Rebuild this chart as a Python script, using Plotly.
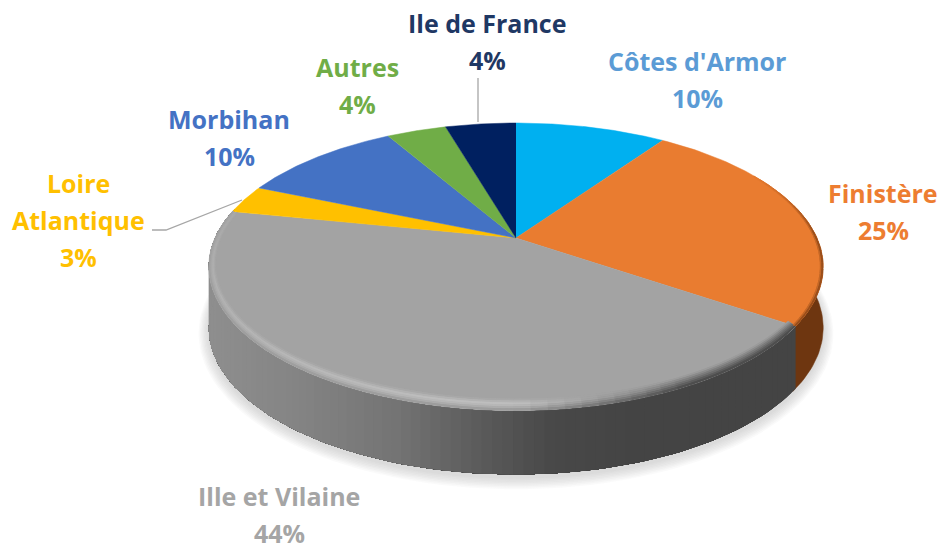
import numpy as np
import plotly.graph_objects as go

# ---- data
categories = ["Côtes d'Armor", "Finistère", "Ille et Vilaine", "Loire Atlantique", "Morbihan", "Autres", "Ile de France"]
values = [9.6, 25.0, 43.6, 3.2, 10.3, 3.8, 4.5]
percent_labels = ["10%", "25%", "44%", "3%", "10%", "4%", "4%"]
face_colors = ["#00B0F0", "#E97C30", "#A3A3A3", "#FFC000", "#4472C4", "#70AD47", "#002060"]
text_colors = ["#5B9BD5", "#ED7D31", "#A5A5A5", "#FFC000", "#4472C4", "#70AD47", "#1F3864"]
label_lines = [["Côtes d'Armor"], ["Finistère"], ["Ille et Vilaine"], ["Loire", "Atlantique"], ["Morbihan"], ["Autres"], ["Ile de France"]]

# ---- projection of the tilted disc onto the page
CX, CY, RX, RY, PERSP = 516.0, 238.0, 301.0, 138.0, 0.2
WALL = 64.0
FONT = "Open Sans"

def proj(theta, rx=1.0, ry=1.0, drop=0.0):
    X, Y = np.sin(theta) * rx, -np.cos(theta) * ry
    f = 1.0 / (1.0 - PERSP * Y)
    wall = drop * (0.94 + 0.06 * Y)
    return CX + RX * X * f, CY + RY * Y * f + wall

def hexrgb(c):
    return np.array([int(c[i:i + 2], 16) for i in (1, 3, 5)], float)

def mix(a, b, w):
    v = np.asarray(a) * (1 - w) + np.asarray(b) * w
    return "rgb(%d,%d,%d)" % tuple(np.round(v))

def gray(g):
    return mix([g] * 3, [g] * 3, 0)

fig = go.Figure()

def poly(xs, ys, color, opacity=None, lw=0.5):
    fig.add_trace(go.Scatter(x=list(xs), y=list(ys), mode="lines", fill="toself", fillcolor=color,
                             line=dict(color=color if opacity is None else "rgba(0,0,0,0)", width=lw if opacity is None else 0),
                             opacity=opacity, hoverinfo="skip", showlegend=False))

fractions = np.array(values) / sum(values)
edges = np.concatenate([[0], np.cumsum(fractions)]) * 2 * np.pi

# soft shadow under the disc
for grow in np.linspace(10, 1, 8):
    th = np.linspace(0, 2 * np.pi, 180)
    x, y = proj(th, drop=WALL + 3)
    x2 = CX + (x - CX) * (1 + grow / 300)
    y2 = (CY + 40) + (y - CY - 40) * (1 + grow / 170)
    poly(x2, y2, "#9a9a9a", opacity=0.05)

# side wall: orange piece in one polygon, then the grey piece painted strip over strip
wall_x = [205, 300, 400, 480, 560, 640, 800]
wall_v = [143, 132, 116, 92, 72, 68, 68]

t = np.linspace(np.pi / 2 - 0.22, edges[2] + 0.02, 40)
x0, y0 = proj(t)
x1, y1 = proj(t, drop=WALL)
poly(np.r_[x0, x1[::-1]], np.r_[y0, y1[::-1]], "#6E3610")

th_wall = np.linspace(edges[2], 1.5 * np.pi + 0.22, 100)
for i in range(len(th_wall) - 1):
    t = th_wall[i:]
    x0, y0 = proj(t)
    x1, y1 = proj(t, drop=WALL)
    g = np.interp(proj(np.array([th_wall[i]]))[0][0], wall_x, wall_v)
    poly(np.r_[x0, x1[::-1]], np.r_[y0, y1[::-1]], gray(g), lw=0)

# top faces
for start, end, col in zip(edges[:-1], edges[1:], face_colors):
    t = np.linspace(start, end, 80)
    x, y = proj(t)
    poly(np.r_[CX, x], np.r_[CY, y], col)

# rim bevel on the grey face, painted from the inside out
face = hexrgb(face_colors[2])
bands = np.linspace(0, 1, 7)
th_bev = np.linspace(edges[2], edges[3], 60)
dth = th_bev[1] - th_bev[0]
for w0 in bands[:-1]:
    for a in th_bev[:-1]:
        end = min(a + 2 * dth, edges[3])
        t = np.linspace(a, end, 3)
        xm = proj(np.array([a + dth / 2]))[0][0]
        s = np.clip((xm - 520) / 170, 0, 1)
        wm = w0 + (bands[1] - bands[0]) / 2
        fade = np.clip((a - np.pi * 1.05) / (edges[3] - np.pi * 1.05), 0, 1)
        peak = 192 - 22 * fade
        left = np.interp(wm, [0, 0.45, 0.75, 1], [face[0], peak, 172 - 6 * fade, 150 + 10 * fade])
        right = np.interp(wm, [0, 1], [face[0], 70])
        g = left * (1 - s) + right * s
        xa, ya = proj(t, 1 - 0.02 * (1 - w0), 1 - 0.055 * (1 - w0))
        xb, yb = proj(t)
        poly(np.r_[xa, xb[::-1]], np.r_[ya, yb[::-1]], gray(g), lw=0)

# dark edge of the orange face
orange = hexrgb(face_colors[1])
th_or = np.linspace(edges[1] + 0.45, edges[2], 30)
for w0, strength in [(0, 0.3), (0.5, 0.65)]:
    for a, b in zip(th_or[:-1], th_or[1:]):
        t = np.linspace(a, min(b + 0.03, edges[2]), 3)
        ramp = np.clip((b - th_or[0]) / 0.5, 0, 1)
        xa, ya = proj(t, 1 - 0.01 * (1 - w0), 1 - 0.01 * (1 - w0))
        xb, yb = proj(t)
        poly(np.r_[xa, xb[::-1]], np.r_[ya, yb[::-1]], mix(orange, [110, 54, 16], ramp * strength), lw=0)

# leader lines
LEADER = "#A6A6A6"
fig.add_trace(go.Scatter(x=[478, 478], y=[78, 122], mode="lines", line=dict(color=LEADER, width=1.3), hoverinfo="skip", showlegend=False))
fig.add_trace(go.Scatter(x=[152, 166, 242], y=[230, 230, 200], mode="lines", line=dict(color=LEADER, width=1.3), hoverinfo="skip", showlegend=False))

# labels: centre x, y of first line
label_pos = [(697, 61), (883, 193), (279, 496), (78, 183), (229, 119), (357, 67), (487, 23)]
STEP = 36.8
for lines, pct, col, (lx, ly) in zip(label_lines, percent_labels, text_colors, label_pos):
    for i, txt in enumerate(lines + [pct]):
        fig.add_annotation(x=lx, y=ly + i * STEP, text="<b>%s</b>" % txt, showarrow=False,
                           xanchor="center", yanchor="middle", font=dict(family=FONT, size=25, color=col))

fig.update_layout(width=942, height=544, margin=dict(l=0, r=0, t=0, b=0), paper_bgcolor="white", plot_bgcolor="white",
                  showlegend=False, xaxis=dict(range=[0, 942], visible=False, fixedrange=True),
                  yaxis=dict(range=[544, 0], visible=False, fixedrange=True))
fig.write_html("out.html", config={"displayModeBar": False},
               post_script="document.body.style.margin='0';document.body.style.overflow='hidden';")
